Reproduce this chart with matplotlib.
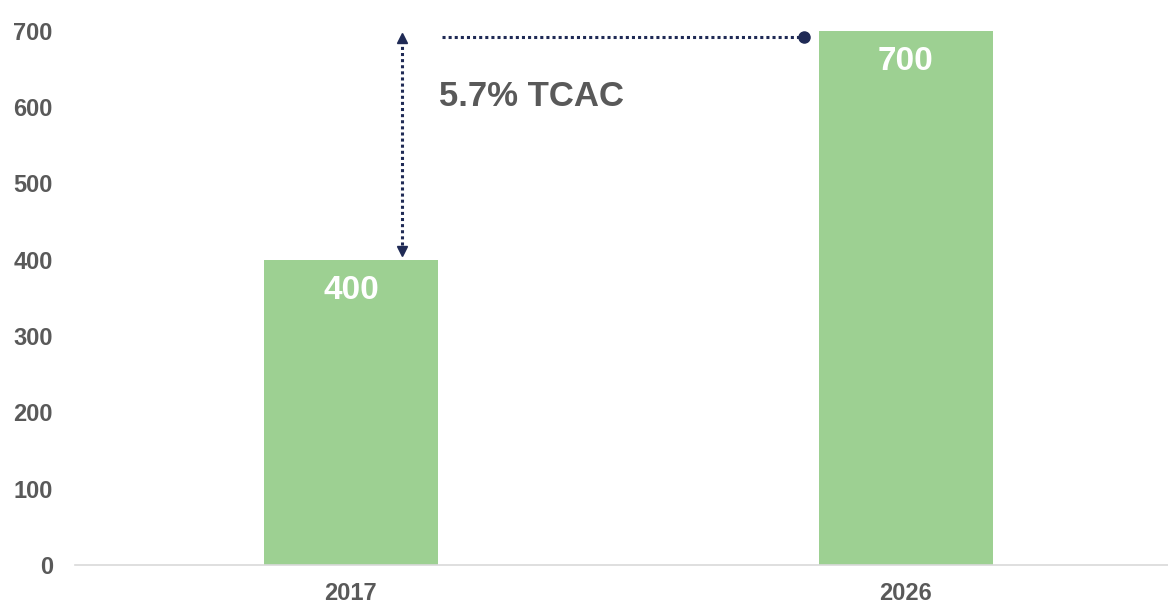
import matplotlib.pyplot as plt

plt.rcParams['font.family'] = ['Liberation Sans', 'DejaVu Sans']

# data
years = ['2017', '2026']
values = [400, 700]
cagr_label = '5.7% TCAC'

BAR = '#9dd092'
GRAY = '#595959'
NAVY = '#1f2a55'

fig = plt.figure(figsize=(11.68, 6.05), dpi=100)
ax = fig.add_axes([75 / 1168, 1 - 565 / 605, 1 - 75 / 1168, (565 - 30.5) / 605])

x = list(range(len(years)))
ax.bar(x, values, width=0.314, color=BAR, zorder=2)

ax.set_xlim(-0.497, 1.472)
ax.set_ylim(0, 700)
ax.set_yticks(range(0, 701, 100))
ax.set_xticks(x)
ax.set_xticklabels(years)
ax.tick_params(axis='both', length=0, labelcolor=GRAY, labelsize=17)
ax.tick_params(axis='y', pad=16)
ax.tick_params(axis='x', pad=12)
for lab in ax.get_xticklabels() + ax.get_yticklabels():
    lab.set_fontweight('bold')

for s in ['top', 'right', 'left']:
    ax.spines[s].set_visible(False)
ax.spines['bottom'].set_color('#d9d9d9')
ax.spines['bottom'].set_linewidth(1.2)

# value labels inside bars
for xi, v in zip(x, values):
    ax.text(xi, v - 40, f'{v}', ha='center', va='center', color='white',
            fontsize=24, fontweight='bold', zorder=3)

# growth arrow
ax_x = x[0] + 0.092
lo, hi = values[0] + 11, values[1] - 10
ax.plot([ax_x, ax_x], [lo + 8, hi - 8], color=NAVY, lw=2.2,
        linestyle=(0, (1, 1)), clip_on=False, zorder=4)
ax.plot([ax_x], [hi], marker='^', color=NAVY, markersize=7, clip_on=False, zorder=4)
ax.plot([ax_x], [lo], marker='v', color=NAVY, markersize=7, clip_on=False, zorder=4)

hy = values[1] - 8.5
ax.plot([x[0] + 0.164, x[1] - 0.184], [hy, hy], color=NAVY, lw=2.2,
        linestyle=(0, (1, 1)), clip_on=False, zorder=4)
ax.plot([x[1] - 0.184], [hy], marker='o', color=NAVY, markersize=8, clip_on=False, zorder=4)

ax.text(x[0] + 0.158, 614, cagr_label, ha='left', va='center', color=GRAY,
        fontsize=25, fontweight='bold')

fig.savefig('out.png', dpi=100)
